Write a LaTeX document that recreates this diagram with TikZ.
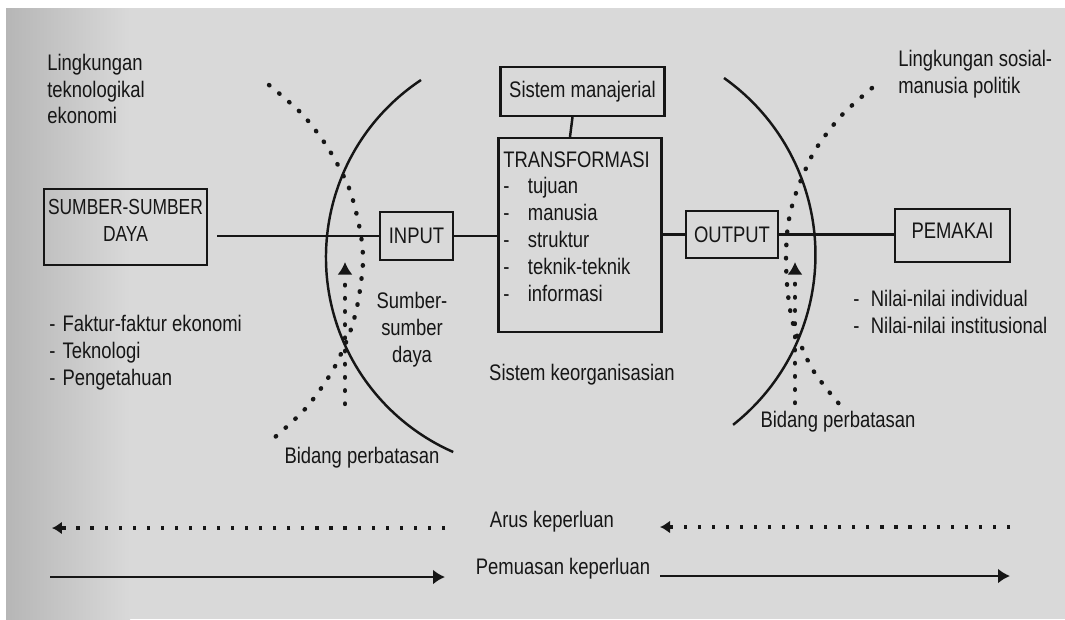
\documentclass[tikz,border=0pt]{standalone}
\usepackage{fontspec}
\setmainfont{Liberation Sans}[FakeStretch=0.82]
\usepackage{tikz}
\usetikzlibrary{arrows.meta}
\definecolor{paperGray}{RGB}{217, 217, 217}
\definecolor{paperDark}{RGB}{182, 182, 182}
\definecolor{inkBlack}{RGB}{22, 22, 22}

\tikzset{
  txt/.style={inner sep=0pt, text=inkBlack, font=\fontsize{12.8}{15.3}\selectfont},
  kotak/.style={draw=inkBlack, line width=1.2pt, inner sep=0pt, text=inkBlack,
    font=\fontsize{12.8}{15.3}\selectfont, align=center},
  garis/.style={draw=inkBlack, line width=1.4pt},
  batas/.style={draw=inkBlack, line width=2.5pt, line cap=round, dash pattern=on 0.3pt off 7.2pt},
  arus/.style={draw=inkBlack, line width=1.9pt, dash pattern=on 1.8pt off 6.2pt}
}

\begin{document}
\begin{tikzpicture}[x=0.02cm, y=0.02cm]
  % kertas
  \useasboundingbox (0,0) rectangle (1065,-619);
  \fill[white] (0,0) rectangle (1065,-619);
  \fill[paperGray] (6,-8) rectangle (1065,-619);
  \shade[left color=paperDark, right color=paperGray] (6,-8) rectangle (130,-619);

  % kotak-kotak
  \node[kotak, minimum width=3.26cm, minimum height=1.52cm, text depth=0.28cm,
    font=\fontsize{12.4}{15.3}\selectfont\addfontfeatures{FakeStretch=0.8}] (sumber) at (125.5,-227) {SUMBER-SUMBER\\DAYA};
  \node[kotak, minimum width=1.46cm, minimum height=0.96cm] (input) at (416.5,-236) {INPUT};
  \node[kotak, minimum width=3.28cm, minimum height=0.98cm] (manaj) at (582.5,-91.5) {Sistem manajerial};
  \node[kotak, minimum width=3.26cm, minimum height=3.88cm] (transf) at (580,-235) {};
  \node[kotak, minimum width=1.85cm, minimum height=0.94cm] (output) at (732,-234.5) {OUTPUT};
  \node[kotak, minimum width=2.30cm, minimum height=1.06cm, text depth=0.2cm] (pemakai) at (952.5,-235.5) {PEMAKAI};
  \node[txt, anchor=north west, align=left] (transftxt) at ([xshift=0.11cm, yshift=-0.28cm]transf.north west)
    {TRANSFORMASI\\
     -\hspace{10.5pt}tujuan\\
     -\hspace{10.5pt}manusia\\
     -\hspace{10.5pt}struktur\\
     -\hspace{10.5pt}teknik-teknik\\
     -\hspace{10.5pt}informasi};

  % penghubung
  \draw[garis, shorten <=0.18cm] (sumber.east |- input.west) -- (input.west);
  \draw[garis] (input.east) -- (transf.west |- input.east);
  \draw[garis] (transf.east |- output.west) -- (output.west);
  \draw[garis] (output.east) -- (pemakai.west |- output.east);
  \draw[garis] ([xshift=-0.2cm]manaj.south) -- ([xshift=-0.2cm]transf.north);

  % lengkung batas
  \draw[inkBlack, line width=1.4pt] (421,-80) arc[start angle=123.6, end angle=246.3, radius=4.256cm];
  \draw[inkBlack, line width=1.4pt] (724,-78) arc[start angle=54.7, end angle=-51.7, radius=4.334cm];

  % bidang perbatasan (titik-titik)
  \draw[batas] plot[smooth] coordinates {(269,-85) (302,-114) (328,-148) (349,-188) (360,-230) (363,-262)
    (358,-302) (350,-332) (333,-370) (306,-408) (274,-438)};
  \draw[batas] plot[smooth] coordinates {(872,-88) (841,-116) (814,-152) (796,-193) (788,-225) (786,-260)
    (788,-295) (794,-327) (810,-365) (826,-388) (846,-412)};
  \coordinate (inbawah) at (345,-404);
  \coordinate (inatas) at (345,-262);
  \coordinate (outbawah) at (795,-403);
  \coordinate (outatas) at (795,-262);
  \draw[batas, -{Latex[length=0.25cm, width=0.3cm]}] (inbawah) -- (inatas);
  \draw[batas, -{Latex[length=0.25cm, width=0.3cm]}] (outbawah) -- (outatas);

  % label
  \node[txt, anchor=west, align=left] (lingkiri) at (47,-89) {Lingkungan\\teknologikal\\ekonomi};
  \node[txt, anchor=west, align=left] (lingkanan) at (898,-74) {Lingkungan sosial-\\manusia politik};
  \node[txt, align=center] (sumberdaya) at (412,-330) {Sumber-\\sumber\\daya};
  \node[txt, anchor=west, align=left] (faktor) at (49,-353)
    {-\hspace{4pt}Faktur-faktur ekonomi\\-\hspace{4pt}Teknologi\\-\hspace{4pt}Pengetahuan};
  \node[txt, anchor=west, align=left] (nilai) at (853,-312)
    {-\hspace{6.5pt}Nilai-nilai individual\\-\hspace{6.5pt}Nilai-nilai institusional};
  \node[txt] (bidangkiri) at (362,-458) {Bidang perbatasan};
  \node[txt] (bidangkanan) at (838,-422) {Bidang perbatasan};
  \node[txt] (keorg) at (582,-375) {Sistem keorganisasian};
  \node[txt] (aruslbl) at (552,-522) {Arus keperluan};
  \node[txt] (puaslbl) at (563,-569) {Pemuasan keperluan};

  % arus dan pemuasan keperluan
  \coordinate (arusA) at (445,-528);
  \coordinate (arusB) at (52,-528);
  \coordinate (arusC) at (1010,-527);
  \coordinate (arusD) at (660,-527);
  \coordinate (puasA) at (50,-577);
  \coordinate (puasB) at (445,-577);
  \coordinate (puasC) at (660,-576);
  \coordinate (puasD) at (1010,-576);
  \draw[arus, -{Latex[length=0.2cm, width=0.26cm]}] (arusA) -- (arusB);
  \draw[arus, -{Latex[length=0.2cm, width=0.26cm]}] (arusC) -- (arusD);
  \draw[garis, -{Latex[length=0.24cm, width=0.3cm]}] (puasA) -- (puasB);
  \draw[garis, -{Latex[length=0.24cm, width=0.3cm]}] (puasC) -- (puasD);
\end{tikzpicture}
\end{document}
